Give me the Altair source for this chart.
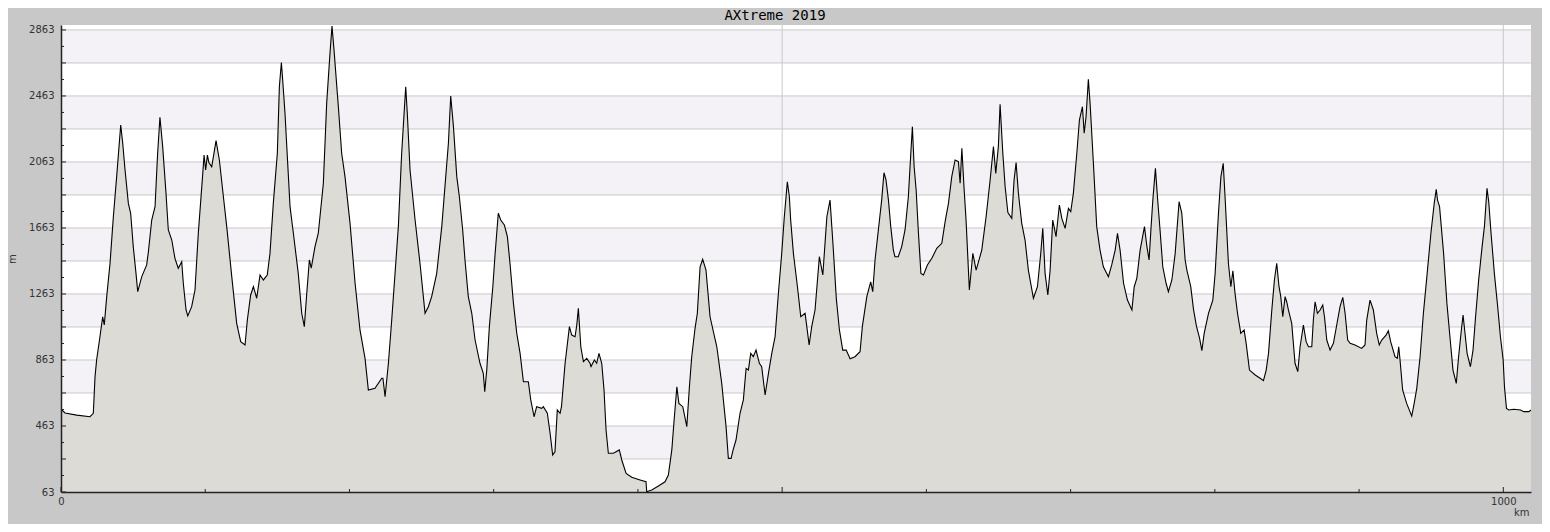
import altair as alt
import pandas as pd

# ---- data ----
KM = [0, 2.8, 10.9, 20.1, 22.4, 23.6, 24.7, 27, 28.9, 30, 31.7, 34, 36.3, 38.6, 41.4, 42.8, 44.4, 46.7, 48.3, 50.1,
      52, 53.2, 56, 59.4, 60.6, 62.9, 65.2, 67, 68.6, 70.5, 72.8, 74.4, 76.8, 79, 81.3, 83.7, 84.8, 86.7, 87.9, 90.6,
      92.9, 95.2, 98.3, 99.2, 100.3, 101.5, 102.5, 104.5, 107.5, 109.8, 112.6, 114.9, 118.4, 121.8, 124.6, 127.6, 129.2, 131.5, 133.4, 135.7,
      138, 140.3, 143, 144.9, 147.2, 150, 151.4, 152.8, 153.7, 155.3, 158.8, 161.1, 164.5, 166.9, 168.7, 170.4, 172.2, 173.5, 176.1, 178.4,
      181.9, 184.2, 186.5, 187.9, 189.3, 192.3, 194.6, 196.9, 200.4, 203.9, 207.3, 210.8, 213.1, 217.7, 222.4, 223.2, 224.7, 227, 229.3, 231.6,
      233.9, 236.2, 239, 240.1, 242, 245.5, 248.9, 252.4, 254.7, 257, 260.5, 264, 268.6, 270.2, 272.1, 274.4, 276.2, 278.5, 280.1, 282.4,
      284.8, 287.1, 290.5, 292.8, 293.8, 295.2, 297, 299.4, 301, 303.2, 304.9, 307.4, 309.5, 311.3, 313.7, 316, 318.3, 320.6, 324, 325.7,
      328, 329.8, 333.3, 334.4, 337.2, 339.1, 340.9, 342.5, 344.1, 346, 347, 349.5, 352.5, 354.1, 356.4, 357.6, 358.7, 360.4, 362.2, 364.5,
      366.8, 367.5, 369.8, 371.4, 373, 374.9, 376.5, 377.9, 379.5, 383, 387.1, 388.8, 391.8, 395.7, 401.5, 405.6, 406.1, 409.6, 414.2, 418.8,
      421.1, 423.5, 425.1, 427, 428.4, 431.1, 433.9, 435.7, 437.3, 439.6, 441.2, 443.1, 444.9, 447.2, 450, 454.7, 458.1, 461.1, 462.7, 464.6,
      466, 468, 470.8, 473.1, 475, 476.6, 478.2, 480, 481.9, 484.2, 485.8, 488.2, 490.5, 492.8, 495.1, 497.4, 499.7, 501.5, 503.6, 505,
      505.9, 507.8, 510.6, 512.9, 515.9, 517.1, 518.7, 520.5, 522.8, 525.8, 528.2, 531, 533.2, 535.2, 537.6, 539.7, 542, 544.4, 547.1, 550.5,
      554, 555.6, 558.7, 560.5, 561.4, 562.8, 564.4, 566.7, 569, 570.6, 572, 573.7, 575.3, 577.1, 578.2, 580.5, 582.9, 585.2, 587.5, 589.2,
      590.3, 591.5, 592.9, 594.5, 596.2, 598, 600.7, 603.8, 607.2, 610.7, 613, 615.3, 617.6, 619.9, 622.2, 623.4, 624.6, 626.2, 627.5, 629.8,
      632.2, 634.5, 636.8, 638.4, 641.4, 644.2, 646.5, 648.1, 649.9, 651.1, 653, 654.6, 656.5, 659.2, 660.8, 662.2, 663.8, 666.1, 668.4, 670.7,
      674.2, 677, 679.3, 680.7, 682.3, 684.2, 685.8, 687.6, 689.9, 692.2, 693.9, 696.2, 698.5, 700.1, 701.9, 704.3, 706.1, 708.2, 709.4, 710.7,
      712.3, 713.5, 715.8, 718.1, 720.4, 722.7, 726.2, 728.5, 730.9, 732.5, 734.3, 736.7, 739.4, 742.5, 744.1, 745.9, 748.2, 751.2, 752.9, 754.4,
      755.8, 757, 758.8, 760.2, 762, 763.9, 766.2, 767.8, 770.2, 772.5, 775.2, 777.1, 779.4, 780.6, 783.3, 785.2, 787.2, 789.4, 791, 792.6,
      795.6, 798.6, 800.2, 802.5, 804.2, 805.8, 807.2, 809.4, 811.1, 812.5, 814, 815.7, 818, 820.3, 821.7, 824, 828, 831.4, 833.7, 835.6,
      837.2, 839.5, 841.3, 842.9, 844.5, 845.7, 847.1, 848.7, 849.8, 851, 853.3, 855.6, 857.5, 859.1, 861.4, 863.3, 864.9, 867.2, 868.3, 869.5,
      871.1, 873, 874.8, 876, 877.6, 879.9, 882.2, 884.5, 886.8, 888.7, 890.3, 892.1, 893.8, 897.2, 901.8, 904.1, 905.3, 907.6, 909.9, 912.2,
      914, 915.7, 918.7, 920.3, 921.9, 924.9, 926.5, 927.5, 928.4, 930.2, 933, 936.5, 938.2, 940, 942.3, 944.6, 947, 949.8, 952.1, 953.5,
      954.4, 955.8, 958.6, 960.9, 963.2, 965.1, 967.4, 969, 970.9, 972.1, 973.2, 974.9, 977.2, 979, 980.6, 982.9, 985.3, 986.9, 988.7, 989.9,
      991.5, 993.8, 996.1, 998, 999.9, 1000.8, 1002.2, 1003.8, 1007.3, 1011.9, 1014.2, 1017.7, 1019.2]

ELEV = [565, 542, 529, 519, 540, 762, 863, 1004, 1125, 1075, 1247, 1449, 1731, 1974, 2287, 2176, 2014, 1812, 1752, 1550,
        1388, 1277, 1368, 1439, 1519, 1711, 1792, 2116, 2334, 2156, 1873, 1651, 1590, 1479, 1419, 1459, 1328, 1166, 1130, 1186,
        1287, 1631, 1994, 2105, 2014, 2105, 2060, 2034, 2192, 2075, 1852, 1671, 1368, 1085, 974, 954, 1105, 1257, 1307, 1237,
        1378, 1348, 1378, 1509, 1812, 2116, 2519, 2665, 2560, 2358, 1792, 1631, 1388, 1146, 1065, 1267, 1469, 1420, 1550, 1631,
        1934, 2418, 2721, 2887, 2741, 2398, 2116, 1974, 1691, 1328, 1045, 873, 681, 691, 752, 752, 640, 843, 1105, 1388,
        1671, 2116, 2519, 2358, 2014, 1711, 1449, 1146, 1186, 1247, 1388, 1671, 2176, 2463, 2277, 1974, 1852, 1651, 1469, 1247,
        1146, 984, 843, 782, 671, 802, 1065, 1307, 1509, 1752, 1711, 1681, 1610, 1449, 1206, 1024, 903, 731, 731, 621,
        519, 580, 570, 580, 540, 419, 287, 307, 560, 540, 580, 843, 1065, 1014, 1004, 1075, 1176, 943, 853, 873,
        843, 823, 863, 843, 903, 843, 681, 439, 298, 298, 318, 257, 176, 152, 136, 125, 65, 75, 99, 125,
        166, 318, 499, 701, 600, 580, 459, 701, 883, 1055, 1146, 1428, 1473, 1408, 1125, 943, 721, 459, 267, 267,
        318, 378, 540, 621, 812, 802, 903, 883, 923, 843, 823, 651, 782, 903, 1004, 1267, 1509, 1731, 1943, 1852,
        1711, 1509, 1307, 1125, 1146, 1065, 954, 1065, 1166, 1489, 1378, 1731, 1832, 1570, 1230, 1045, 923, 923, 870, 883,
        913, 1065, 1247, 1307, 1337, 1277, 1469, 1651, 1832, 1998, 1954, 1832, 1671, 1529, 1489, 1489, 1550, 1651, 1852, 2116,
        2277, 2034, 1893, 1631, 1388, 1378, 1439, 1479, 1540, 1570, 1701, 1812, 1974, 2075, 2065, 1934, 2146, 1893, 1711, 1287,
        1509, 1408, 1479, 1529, 1731, 1954, 2156, 1994, 2156, 2412, 2116, 1913, 1756, 1721, 1954, 2059, 1873, 1691, 1590, 1408,
        1237, 1307, 1509, 1661, 1388, 1257, 1408, 1711, 1610, 1802, 1721, 1661, 1782, 1762, 1873, 2116, 2317, 2398, 2237, 2337,
        2564, 2418, 2055, 1671, 1529, 1428, 1368, 1439, 1529, 1631, 1529, 1328, 1226, 1166, 1307, 1358, 1529, 1671, 1550, 1469,
        1671, 1832, 2024, 1852, 1651, 1428, 1328, 1277, 1348, 1509, 1822, 1752, 1469, 1408, 1307, 1170, 1070, 995, 920, 1024,
        1146, 1226, 1388, 1752, 1974, 2055, 1832, 1449, 1307, 1404, 1267, 1146, 1024, 1045, 964, 802, 772, 752, 738, 802,
        903, 1166, 1348, 1449, 1307, 1247, 1125, 1247, 1216, 1166, 1085, 843, 792, 943, 1075, 974, 943, 943, 1105, 1216,
        1146, 1166, 1196, 1125, 984, 923, 964, 1075, 1186, 1243, 1146, 984, 964, 954, 933, 954, 1105, 1226, 1166, 1024,
        954, 984, 1014, 1040, 974, 883, 873, 943, 863, 681, 600, 523, 600, 691, 883, 1146, 1368, 1631, 1812, 1897,
        1832, 1792, 1509, 1206, 984, 802, 721, 883, 1045, 1135, 1045, 903, 822, 923, 1105, 1348, 1550, 1671, 1903, 1822,
        1631, 1388, 1186, 1004, 863, 701, 570, 560, 564, 560, 550, 550, 560]

TITLE = "AXtreme 2019"
Y_TICKS = [63, 263, 463, 663, 863, 1063, 1263, 1463, 1663, 1863, 2063, 2263, 2463, 2663, 2863]
Y_MINOR = [163, 363, 563, 763, 963, 1163, 1363, 1563, 1763, 1963, 2163, 2363, 2563, 2763]
BAND_LO = [263, 663, 1063, 1463, 1863, 2263, 2663]
BAND_HI = [463, 863, 1263, 1663, 2063, 2463, 2863]
X_LABELS = [0, 1000]
X_GRID = [0, 500, 1000]
X_MINOR = [100, 200, 300, 400, 600, 700, 800, 900]

Y_MIN, Y_MAX = 63, 2893
X_MIN, X_MAX = 0, 1019.2
W, H = 1470, 467

profile = pd.DataFrame({"km": KM, "m": ELEV})
bands = pd.DataFrame({"lo": BAND_LO, "hi": BAND_HI})
ygrid = pd.DataFrame({"v": Y_TICKS})
yminor = pd.DataFrame({"v": Y_MINOR})
xgrid = pd.DataFrame({"v": X_GRID})
xminor = pd.DataFrame({"v": X_MINOR})
title_df = pd.DataFrame({"t": [TITLE]})

xs = alt.Scale(domain=[X_MIN, X_MAX], nice=False, zero=False)
ys = alt.Scale(domain=[Y_MIN, Y_MAX], nice=False, zero=False)

GRID = "#c9c9c9"
AXC = "#222222"

band_layer = alt.Chart(bands).mark_rect(color="#f4f2f6", opacity=1).encode(
    x=alt.datum(X_MIN, scale=xs), x2=alt.datum(X_MAX),
    y=alt.Y("lo:Q", scale=ys), y2="hi:Q")

hgrid = alt.Chart(ygrid).mark_rule(color=GRID, strokeWidth=1).encode(
    y=alt.Y("v:Q", scale=ys), x=alt.value(0), x2=alt.value(W))

vgrid = alt.Chart(xgrid).mark_rule(color=GRID, strokeWidth=1).encode(
    x=alt.X("v:Q", scale=xs), y=alt.value(0), y2=alt.value(H))

area = alt.Chart(profile).mark_area(
    color="#dcdbd6", opacity=1, fillOpacity=1, clip=True, interpolate="linear",
    line={"color": "#000000", "strokeWidth": 1.1}).encode(
    x=alt.X("km:Q", scale=xs,
            axis=alt.Axis(values=X_LABELS, format="d", title="km", grid=False, ticks=False,
                          domainColor=AXC, domainWidth=1.5, labelFont="DejaVu Sans", labelFontSize=10,
                          labelColor="#333333", labelPadding=4, labelFlush=False,
                          titleFont="DejaVu Sans", titleFontSize=10, titleFontWeight="normal",
                          titleColor="#333333", titleX=W - 2, titleY=23, titleAlign="right",
                          titleBaseline="alphabetic", zindex=2)),
    y=alt.Y("m:Q", scale=ys,
            axis=alt.Axis(values=Y_TICKS, format="d", title="m", grid=False, ticks=False,
                          domainColor=AXC, domainWidth=1.5, labelFont="DejaVu Sans", labelFontSize=10,
                          labelColor="#333333", labelPadding=7, labelFlush=False,
                          titleFont="DejaVu Sans", titleFontSize=10, titleFontWeight="normal",
                          titleColor="#333333", titleX=-49, titleY=H / 2, titleAngle=270,
                          titleAlign="center", titleBaseline="middle", zindex=2)),
    y2=alt.datum(Y_MIN))

ytick_major = alt.Chart(ygrid).mark_rule(color=AXC, strokeWidth=1).encode(
    y=alt.Y("v:Q", scale=ys), x=alt.value(0), x2=alt.value(5))
ytick_minor = alt.Chart(yminor).mark_rule(color=AXC, strokeWidth=1).encode(
    y=alt.Y("v:Q", scale=ys), x=alt.value(0), x2=alt.value(3))
xtick_major = alt.Chart(xgrid).mark_rule(color=AXC, strokeWidth=1).encode(
    x=alt.X("v:Q", scale=xs), y=alt.value(H), y2=alt.value(H - 5))
xtick_minor = alt.Chart(xminor).mark_rule(color=AXC, strokeWidth=1).encode(
    x=alt.X("v:Q", scale=xs), y=alt.value(H), y2=alt.value(H - 3))

title_layer = alt.Chart(title_df).mark_text(
    font="DejaVu Sans Mono", fontSize=14, color="#000000", align="center",
    baseline="top").encode(
    text="t:N", x=alt.value(714), y=alt.value(-16))

chart = alt.layer(band_layer, hgrid, vgrid, area,
                  ytick_major, ytick_minor, xtick_major, xtick_minor, title_layer).properties(
    width=W, height=H,
    autosize=alt.AutoSizeParams(type="none"),
    padding={"left": 53, "top": 17, "right": 11, "bottom": 32},
    background="#c8c8c8",
).configure_view(fill="#ffffff", stroke=None)

chart.save("out.html", embed_options={"renderer": "svg", "actions": False})
